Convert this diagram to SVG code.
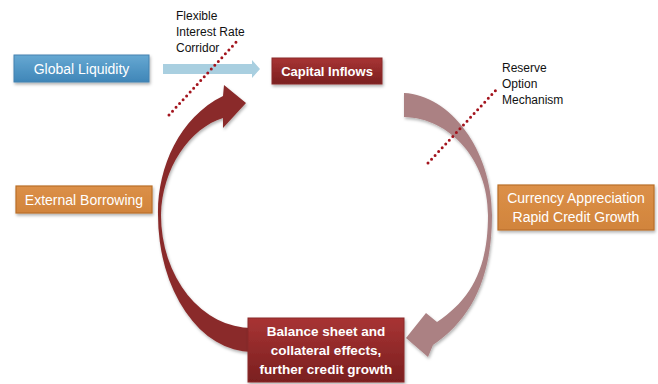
<svg xmlns="http://www.w3.org/2000/svg" width="658" height="384" viewBox="0 0 658 384">
  <defs>
    <linearGradient id="gBlue" x1="0" y1="0" x2="0" y2="1">
      <stop offset="0" stop-color="#66a8d2"/>
      <stop offset="1" stop-color="#3f86b8"/>
    </linearGradient>
    <linearGradient id="gRed" x1="0" y1="0" x2="0" y2="1">
      <stop offset="0" stop-color="#a83434"/>
      <stop offset="1" stop-color="#7a1f1f"/>
    </linearGradient>
    <linearGradient id="gOrange" x1="0" y1="0" x2="0" y2="1">
      <stop offset="0" stop-color="#dc9048"/>
      <stop offset="1" stop-color="#d1843c"/>
    </linearGradient>
    <filter id="sh" x="-20%" y="-20%" width="140%" height="150%">
      <feDropShadow dx="1" dy="2" stdDeviation="1.5" flood-color="#000" flood-opacity="0.3"/>
    </filter>
  </defs>
  <style>
    .lbl { font-family: "Liberation Sans", Arial, sans-serif; fill: #ffffff; text-anchor: middle; }
    .note { font-family: "Liberation Sans", Arial, sans-serif; fill: #111111; font-size: 12px; }
    .bold { font-weight: bold; }
    .dots { fill: none; stroke: #a3141d; stroke-width: 3; stroke-linecap: round; stroke-dasharray: 0 5.2; }
    .blue { fill: url(#gBlue); stroke: #4582b0; stroke-width: 1; }
    .red { fill: url(#gRed); stroke: #8a2a2a; stroke-width: 1; }
    .orange { fill: url(#gOrange); stroke: #b96f28; stroke-width: 1.2; }
  </style>

  <rect width="658" height="384" fill="#ffffff"/>

  <g id="connectors">
    <path id="arrow-liquidity" d="M 163 64 L 252 64 L 252 60 L 260 69 L 252 78 L 252 74 L 163 74 Z" fill="#a9cfe0"/>
    <path id="arrow-right" filter="url(#sh)" fill="#ab8183" d="M 404 93 C 450 95, 492 150, 492 215 C 492 280, 470 320, 433 345 L 428 357 L 406 338 L 426 313 L 437 322 C 470 300, 488 270, 488 215 C 488 160, 450 118, 404 117 Z"/>
    <path id="arrow-left" filter="url(#sh)" fill="#8a2b2b" d="M 252 352 A 94 137 0 0 1 158 215 C 157 170, 178 118, 223 96 L 224 85 L 246 103 L 223 128 L 223 118 C 190 128, 162 168, 161 215 A 91 113 0 0 0 252 328 Z"/>
  </g>

  <g id="dotted-lines">
    <line class="dots" x1="169" y1="115" x2="239" y2="39"/>
    <line class="dots" x1="428" y1="163" x2="497" y2="89"/>
  </g>

  <g id="node-global-liquidity">
    <rect class="blue" x="14" y="55" width="135" height="27" filter="url(#sh)"/>
    <text class="lbl" x="81.5" y="74" font-size="14">Global Liquidity</text>
  </g>

  <g id="node-capital-inflows">
    <rect class="red" x="272" y="58" width="110" height="26" filter="url(#sh)"/>
    <text class="lbl bold" x="327" y="76" font-size="13">Capital Inflows</text>
  </g>

  <g id="node-external-borrowing">
    <rect class="orange" x="16" y="186" width="136" height="27" filter="url(#sh)"/>
    <text class="lbl" x="84" y="205" font-size="14">External Borrowing</text>
  </g>

  <g id="node-currency">
    <rect class="orange" x="498" y="185" width="156" height="45" filter="url(#sh)"/>
    <text class="lbl" x="576" y="203" font-size="14">Currency Appreciation</text>
    <text class="lbl" x="576" y="222" font-size="14">Rapid Credit Growth</text>
  </g>

  <g id="node-balance-sheet">
    <rect class="red" x="248" y="318" width="156" height="64" filter="url(#sh)"/>
    <text class="lbl bold" x="326" y="336" font-size="13.5">Balance sheet and</text>
    <text class="lbl bold" x="326" y="355" font-size="13.5">collateral effects,</text>
    <text class="lbl bold" x="326" y="374" font-size="13.5">further credit growth</text>
  </g>

  <g id="note-flexible">
    <text class="note" x="176" y="20">Flexible</text>
    <text class="note" x="176" y="36">Interest Rate</text>
    <text class="note" x="176" y="52">Corridor</text>
  </g>

  <g id="note-reserve">
    <text class="note" x="502" y="72">Reserve</text>
    <text class="note" x="502" y="88">Option</text>
    <text class="note" x="502" y="104">Mechanism</text>
  </g>
</svg>
